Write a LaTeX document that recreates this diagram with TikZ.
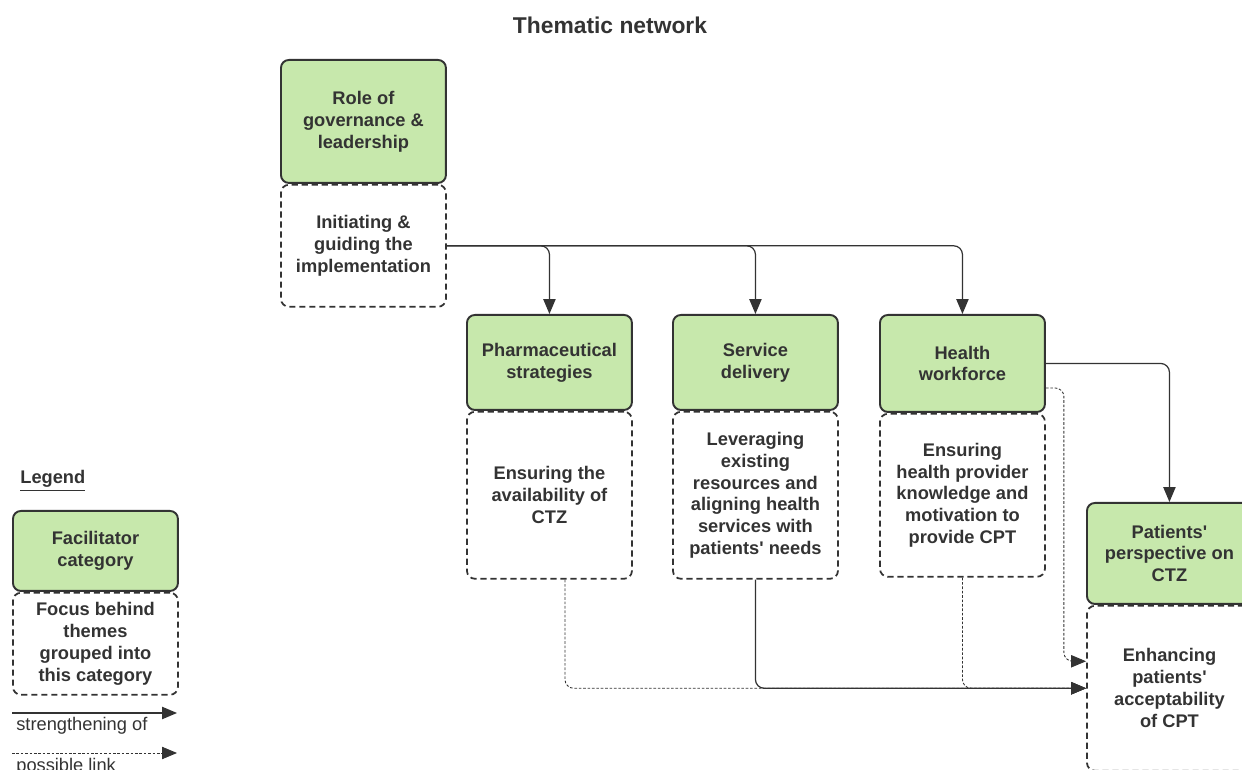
\documentclass[tikz,border=0pt]{standalone}
\usepackage{fontspec}
\setmainfont{Liberation Sans}
\usetikzlibrary{positioning,calc,arrows.meta}
\definecolor{catgreen}{HTML}{C7E8AC}
\definecolor{ink}{HTML}{333333}
\newcommand{\boxfont}{\fontsize{10.4}{12.5}\selectfont\bfseries}
\tikzstyle{cat} = [draw=ink, line width=1.1pt, fill=catgreen, rounded corners=4.5pt, minimum width=3.3cm, align=center, text=ink, font=\boxfont]
\tikzstyle{focus} = [draw=ink, line width=1pt, dash pattern=on 3.5pt off 2.2pt, rounded corners=4.5pt, minimum width=3.3cm, align=center, text=ink, font=\boxfont]
\tikzstyle{arrow} = [draw=ink, line width=0.7pt, rounded corners=5pt, -{Triangle[length=8.5pt,width=7pt]}]
\tikzstyle{link} = [arrow, line width=0.5pt, dash pattern=on 1.5pt off 1pt]

\begin{document}
\begin{tikzpicture}[x=0.02cm, y=-0.02cm]
      \path[use as bounding box, clip] (0,0) rectangle (1242,770);

      \node (title) at (610,25) [text=ink, font=\fontsize{13}{15}\selectfont\bfseries] {Thematic network};

      % categories and their focus
      \node (role) at (280,59) [cat, anchor=north west, minimum height=2.46cm] {Role of\\governance \&\\leadership};
      \node (guide) [focus, below=0pt of role, minimum height=2.44cm] {Initiating \&\\guiding the\\implementation};

      \node (pharma) at (466,314) [cat, anchor=north west, minimum height=1.9cm] {Pharmaceutical\\strategies};
      \node (avail) [focus, below=0pt of pharma, minimum height=3.34cm] {Ensuring the\\availability of\\CTZ};

      \node (service) at (672,314) [cat, anchor=north west, minimum height=1.9cm] {Service\\delivery};
      \node (lever) [focus, below=0pt of service, minimum height=3.34cm] {Leveraging\\existing\\resources and\\aligning health\\services with\\patients\textquotesingle{} needs};

      \node (health) at (879,314) [cat, anchor=north west, minimum height=1.94cm] {Health\\workforce};
      \node (knowl) [focus, below=0pt of health, minimum height=3.26cm] {Ensuring\\health provider\\knowledge and\\motivation to\\provide CPT};

      \node (pts) at (1086,502) [cat, anchor=north west, minimum height=2.02cm] {Patients\textquotesingle\\perspective on\\CTZ};
      \node (accept) [focus, below=0pt of pts, minimum height=3.3cm] {Enhancing\\patients\textquotesingle\\acceptability\\of CPT};

      % links
      \draw[arrow] (guide.east) -| (pharma.north);
      \draw[arrow] (guide.east) -| (service.north);
      \draw[arrow] (guide.east) -| (health.north);
      \draw[arrow] (health.east) -| (pts.north);
      \draw[link] ($(health.east)+(0,24.5)$) -- ++(18,0) |- ($(accept.west)+(0,-27)$);
      \draw[link] ($(avail.south)+(15.5,0)$) |- (accept.west);
      \draw[link] (knowl.south) |- (accept.west);
      \draw[arrow] (lever.south) |- (accept.west);

      % legend
      \node (legend) at (20,481) [anchor=west, inner sep=0pt, text=ink, font=\boxfont] {\underline{Legend}};
      \node (lgcat) at (12,510) [cat, anchor=north west, minimum height=1.6cm] {Facilitator\\category};
      \node (lgfocus) [focus, below=0pt of lgcat, minimum height=2.04cm] {Focus behind\\themes\\grouped into\\this category};
      \coordinate (sa) at (12,713);
      \coordinate (sb) at (177,713);
      \coordinate (pa) at (12,753);
      \coordinate (pb) at (177,753);
      \draw[arrow] (sa) -- (sb);
      \draw[link] (pa) -- (pb);
      \node (strong) at (16,726) [anchor=west, inner sep=0pt, text=ink, font=\fontsize{10.4}{12.5}\selectfont] {strengthening of};
      \node (maybe) at (16,767) [anchor=west, inner sep=0pt, text=ink, font=\fontsize{10.4}{12.5}\selectfont] {possible link};
\end{tikzpicture}
\end{document}
